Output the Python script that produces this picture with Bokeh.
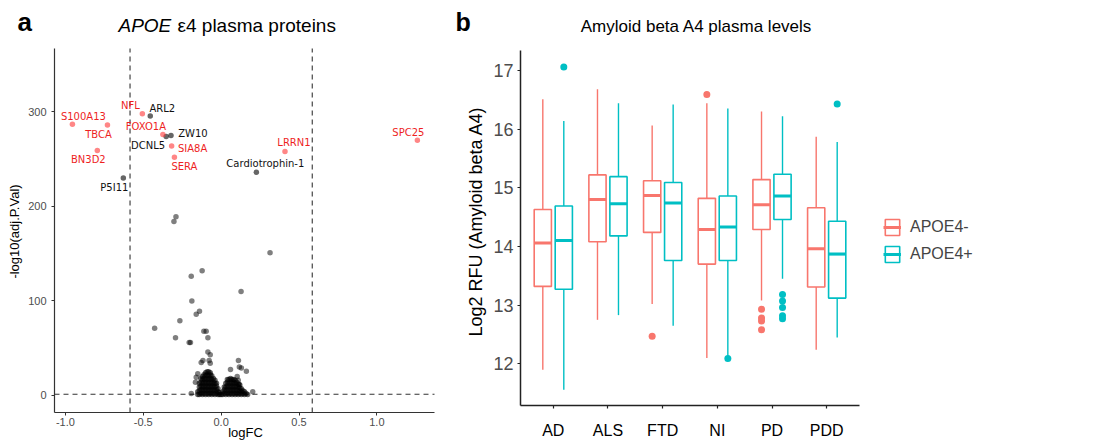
import math
from bokeh.plotting import figure
from bokeh.models import (ColumnDataSource, Label, Legend, LegendItem,
                          FixedTicker, Range1d, NumeralTickFormatter)
from bokeh.layouts import row
from bokeh.embed import file_html
from bokeh.resources import INLINE
from bokeh.core.properties import value

# ---------------- Panel a data (volcano) ----------------
FC_CUT = 0.585   # log2(1.5)
P_CUT = 1.301    # -log10(0.05)

lab_gene = ["S100A13", "TBCA", "BN3D2", "NFL", "FOXO1A", "SIA8A", "SERA", "LRRN1", "SPC25",
            "ARL2", "ZW10", "DCNL5", "P5I11", "Cardiotrophin-1"]
lab_logfc = [-0.955, -0.730, -0.795, -0.506, -0.374, -0.318, -0.300, 0.410, 1.260,
             -0.455, -0.322, -0.353, -0.628, 0.226]
lab_nlp = [287, 286, 259, 298, 276, 264, 252, 258, 270,
           295.5, 275, 274, 230, 236]
lab_red = [True, True, True, True, True, True, True, True, True,
           False, False, False, False, False]
# label nudges (screen px, like ggrepel output)
lab_dx = [11, -9, -9, -12, -17, 21, 10, 9, -9, 12, 22, -18, -9, 9]
lab_dy = [-8, 9, 9, -8, -8, 3, 9, -9, -8, -8, -2, 9, 9, -9]

mid_logfc = [-0.290, -0.303, 0.314, -0.122, -0.192, 0.128, -0.188, -0.139, -0.160, -0.427,
             -0.265, -0.293, -0.205, -0.197, -0.111, -0.096, -0.085, -0.085, -0.070, -0.128,
             -0.117, -0.077, -0.070, 0.111, 0.117, 0.130, 0.060, 0.162, 0.203, -0.192,
             -0.150, -0.160, -0.165, 0.103, 0.110, 0.115]
mid_nlp = [189, 184, 151, 132, 126, 110, 100, 89, 86, 71,
           79, 61, 56, 56, 68, 68, 61, 46, 43, 35,
           37, 37, 34, 37, 30, 29, 27.5, 25.7, 4, 2,
           23, 19.4, 14, 20, 16, 12]

blob_logfc = [
    -0.15, -0.15,
    -0.14, -0.14, -0.14, -0.14,
    -0.13, -0.13, -0.13, -0.13, -0.13,
    -0.12, -0.12, -0.12, -0.12, -0.12, -0.12,
    -0.11, -0.11, -0.11, -0.11, -0.11, -0.11,
    -0.10, -0.10, -0.10, -0.10, -0.10, -0.10, -0.10,
    -0.09, -0.09, -0.09, -0.09, -0.09, -0.09, -0.09,
    -0.08, -0.08, -0.08, -0.08, -0.08, -0.08, -0.08,
    -0.07, -0.07, -0.07, -0.07, -0.07, -0.07, -0.07,
    -0.06, -0.06, -0.06, -0.06, -0.06, -0.06,
    -0.05, -0.05, -0.05, -0.05, -0.05,
    -0.04, -0.04, -0.04, -0.04, -0.04,
    -0.03, -0.03, -0.03, -0.03,
    -0.02, -0.02, -0.02,
    -0.01, -0.01,
    0.00,
    0.01, 0.01,
    0.02, 0.02, 0.02,
    0.03, 0.03, 0.03, 0.03,
    0.04, 0.04, 0.04, 0.04, 0.04,
    0.05, 0.05, 0.05, 0.05, 0.05,
    0.06, 0.06, 0.06, 0.06, 0.06,
    0.07, 0.07, 0.07, 0.07, 0.07,
    0.08, 0.08, 0.08, 0.08, 0.08,
    0.09, 0.09, 0.09, 0.09, 0.09,
    0.10, 0.10, 0.10, 0.10,
    0.11, 0.11, 0.11, 0.11,
    0.12, 0.12, 0.12, 0.12,
    0.13, 0.13, 0.13,
    0.14, 0.14,
    0.15, 0.15,
    0.16,
    0.17,
]
blob_nlp = [
    1, 4,
    1, 5, 9, 13,
    2, 6, 10, 14, 18,
    1, 5, 9, 13, 17, 20,
    2, 6, 10, 14, 18, 22,
    1, 5, 9, 13, 17, 21, 24,
    2, 6, 10, 14, 18, 22, 25,
    1, 5, 9, 13, 17, 21, 25,
    2, 6, 10, 14, 18, 22, 24,
    1, 5, 9, 13, 17, 21,
    2, 6, 10, 14, 18,
    1, 5, 9, 13, 16,
    2, 6, 10, 13,
    1, 4, 7,
    1, 3,
    1,
    1, 4,
    2, 6, 9,
    1, 5, 9, 13,
    2, 6, 10, 14, 17,
    1, 5, 9, 13, 17,
    2, 6, 10, 14, 18,
    1, 5, 9, 13, 17,
    2, 6, 10, 14, 17,
    1, 5, 9, 13, 16,
    2, 6, 10, 14,
    1, 5, 9, 12,
    2, 5, 8, 11,
    1, 4, 7,
    2, 5,
    1, 4,
    2,
    1,
]
xa_ticks = [-1.0, -0.5, 0.0, 0.5, 1.0]
ya_ticks = [0, 100, 200, 300]
XA = (-1.07, 1.37)    # axis limits panel a
YA = (-18, 367)

# ---------------- Panel b data (boxplots) ----------------
groups = ["AD", "ALS", "FTD", "NI", "PD", "PDD"]
neg_lo = [11.90, 12.75, 13.02, 12.10, 13.08, 12.24]
neg_q1 = [13.32, 14.08, 14.24, 13.70, 14.29, 13.31]
neg_med = [14.06, 14.80, 14.87, 14.29, 14.71, 13.96]
neg_q3 = [14.63, 15.22, 15.12, 14.82, 15.14, 14.66]
neg_hi = [16.51, 16.68, 16.06, 16.44, 16.30, 15.87]
pos_lo = [11.56, 12.83, 12.65, 12.13, 13.45, 12.45]
pos_q1 = [13.27, 14.18, 13.76, 13.76, 14.46, 13.12]
pos_med = [14.10, 14.73, 14.74, 14.33, 14.86, 13.87]
pos_q3 = [14.69, 15.19, 15.09, 14.86, 15.23, 14.43]
pos_hi = [16.14, 16.44, 16.42, 16.35, 16.22, 15.78]
neg_out_group = ["FTD", "NI", "PD", "PD", "PD", "PD"]
neg_out_val = [12.47, 16.59, 12.93, 12.78, 12.73, 12.58]
pos_out_group = ["AD", "NI", "PD", "PD", "PD", "PD", "PD", "PDD"]
pos_out_val = [17.06, 12.09, 13.18, 13.07, 12.96, 12.82, 12.77, 16.43]
yb_ticks = [12, 13, 14, 15, 16, 17]
XB = (0.4, 6.6)       # axis limits panel b
YB = (11.29, 17.34)

# ---------------- styles ----------------
RED_PT = "#FF3B3B"
RED_TXT = "#EE1F1F"
NEG_C = "#F8766D"
POS_C = "#00BFC4"
SANS = "Liberation Sans"
H = 441


def make_fig(width, box, xlim, ylim):
    """Figure whose frame fills the canvas; box = plot area (left, top, right, bottom) px."""
    l, t, r, b = box
    kx = (r - l) / (xlim[1] - xlim[0])
    ky = (b - t) / (ylim[1] - ylim[0])
    xr = Range1d(xlim[0] - l / kx, xlim[0] + (width - l) / kx)
    yr = Range1d(ylim[0] - (H - b) / ky, ylim[1] + t / ky)
    p = figure(width=width, height=H, x_range=xr, y_range=yr, output_backend="svg",
               toolbar_location=None, min_border=0, min_border_left=0, min_border_right=0,
               min_border_top=0, min_border_bottom=0)
    p.title.visible = False
    p.grid.visible = False
    p.outline_line_color = None
    p.background_fill_color = "white"
    p.border_fill_color = "white"
    p.xaxis.fixed_location = ylim[0]
    p.yaxis.fixed_location = xlim[0]
    p.xaxis.bounds = xlim
    p.yaxis.bounds = ylim

    def px2x(px):
        return xlim[0] + (px - l) / kx

    def py2y(py):
        return ylim[0] + (b - py) / ky
    return p, px2x, py2y


def add_label(p, x, y, text, size, style="normal", align="left", angle=0.0, color="black"):
    p.add_layout(Label(x=x, y=y, text=text, text_font=SANS, text_font_size=size,
                       text_font_style=style, text_color=color, text_align=align,
                       text_baseline="middle", angle=angle))


# ---------------- Panel a ----------------
A_W = 454
pa, ax, ay = make_fig(A_W, (54, 48, 434, 412), XA, YA)
for axis in (pa.xaxis, pa.yaxis):
    axis.axis_line_color = "#333333"
    axis.axis_line_width = 1.2
    axis.major_tick_line_color = "#333333"
    axis.major_tick_in = 0
    axis.major_tick_out = 3
    axis.minor_tick_line_color = None
    axis.major_label_text_font = SANS
    axis.major_label_text_font_size = "11px"
    axis.major_label_text_color = "#4D4D4D"
pa.xaxis.ticker = FixedTicker(ticks=xa_ticks)
pa.xaxis.formatter = NumeralTickFormatter(format="0.0")
pa.xaxis.major_label_standoff = 2
pa.yaxis.ticker = FixedTicker(ticks=ya_ticks)
pa.yaxis.major_label_standoff = 5

# threshold lines (within axis limits)
pa.segment([-FC_CUT, FC_CUT, XA[0]], [YA[0], YA[0], P_CUT], [-FC_CUT, FC_CUT, XA[1]],
           [YA[1], YA[1], P_CUT], line_color="#333333", line_width=1.1, line_dash="5 4")

pa.scatter(blob_logfc, blob_nlp, size=5.5, fill_color="black", fill_alpha=0.6, line_color=None)
pa.scatter(mid_logfc, mid_nlp, size=5.5, fill_color="black", fill_alpha=0.5, line_color=None)


def subset(flag):
    keep = [r == flag for r in lab_red]
    return ColumnDataSource(dict(
        x=[v for v, k in zip(lab_logfc, keep) if k],
        y=[v for v, k in zip(lab_nlp, keep) if k],
        t=[v for v, k in zip(lab_gene, keep) if k],
        dx=[v for v, k in zip(lab_dx, keep) if k],
        dy=[v for v, k in zip(lab_dy, keep) if k]))


red_src = subset(True)
gry_src = subset(False)
pa.scatter("x", "y", source=gry_src, size=5.5, fill_color="black", fill_alpha=0.6, line_color=None)
pa.scatter("x", "y", source=red_src, size=5.5, fill_color=RED_PT, fill_alpha=0.62, line_color=None)
pa.text("x", "y", text="t", source=gry_src, x_offset="dx", y_offset="dy",
        text_font=value("DejaVu Sans"), text_font_size="10px", text_color="#111111",
        text_align="center", text_baseline="middle")
pa.text("x", "y", text="t", source=red_src, x_offset="dx", y_offset="dy",
        text_font=value("DejaVu Sans"), text_font_size="10px", text_color=RED_TXT,
        text_align="center", text_baseline="middle")

add_label(pa, ax(17), ay(21), "a", "26px", style="bold")
add_label(pa, ax(118), ay(25), "APOE", "19px", style="italic")
add_label(pa, ax(177), ay(25), "\u03b54 plasma proteins", "19px")
add_label(pa, ax(14), ay(231), "-log10(adj.P.Val)", "13px", align="center", angle=math.pi / 2)
add_label(pa, ax(245), ay(432), "logFC", "13px", align="center")

# ---------------- Panel b ----------------
B_W = 638
OX = 454  # panel b starts at this page x
pb, bx, by = make_fig(B_W, (520 - OX, 50, 859 - OX, 405), XB, YB)
DODGE = 0.192
BOX_W = 0.315
for axis in (pb.xaxis, pb.yaxis):
    axis.axis_line_color = "#222222"
    axis.axis_line_width = 1.5
    axis.major_tick_line_color = "#222222"
    axis.major_tick_line_width = 1.2
    axis.major_tick_in = 0
    axis.major_tick_out = 3
    axis.minor_tick_line_color = None
    axis.major_label_text_font = SANS
pb.xaxis.ticker = FixedTicker(ticks=list(range(1, len(groups) + 1)))
pb.xaxis.major_label_overrides = {i + 1: g for i, g in enumerate(groups)}
pb.xaxis.major_label_text_font_size = "16px"
pb.xaxis.major_label_text_color = "black"
pb.xaxis.major_label_standoff = 13
pb.yaxis.ticker = FixedTicker(ticks=yb_ticks)
pb.yaxis.major_label_text_font_size = "18px"
pb.yaxis.major_label_text_color = "#4D4D4D"
pb.yaxis.major_label_standoff = 4


def draw_boxes(off, lo, q1, med, q3, hi, color):
    xs = [i + 1 + off for i in range(len(groups))]
    src = ColumnDataSource(dict(x=xs, lo=lo, q1=q1, med=med, q3=q3, hi=hi,
                                xl=[x - BOX_W / 2 for x in xs], xr=[x + BOX_W / 2 for x in xs]))
    pb.segment("x", "q3", "x", "hi", source=src, line_color=color, line_width=1.4)
    pb.segment("x", "q1", "x", "lo", source=src, line_color=color, line_width=1.4)
    rb = pb.vbar(x="x", width=BOX_W, top="q3", bottom="q1", source=src, fill_color="white",
                 line_color=color, line_width=1.6)
    rm = pb.segment("xl", "med", "xr", "med", source=src, line_color=color, line_width=3)
    return rb, rm


rb_neg, rm_neg = draw_boxes(-DODGE, neg_lo, neg_q1, neg_med, neg_q3, neg_hi, NEG_C)
rb_pos, rm_pos = draw_boxes(DODGE, pos_lo, pos_q1, pos_med, pos_q3, pos_hi, POS_C)
pb.scatter([groups.index(g) + 1 - DODGE for g in neg_out_group], neg_out_val, size=7,
           fill_color=NEG_C, line_color=None)
pb.scatter([groups.index(g) + 1 + DODGE for g in pos_out_group], pos_out_val, size=7,
           fill_color=POS_C, line_color=None)

legend = Legend(items=[LegendItem(label="APOE4-", renderers=[rb_neg, rm_neg]),
                       LegendItem(label="APOE4+", renderers=[rb_pos, rm_pos])],
                location=(883 - OX, H - 264), border_line_color=None,
                background_fill_alpha=0, label_text_font=SANS, label_text_font_size="16px",
                glyph_width=18, glyph_height=20, spacing=7, padding=0, margin=0,
                label_standoff=9)
pb.add_layout(legend)

add_label(pb, bx(455 - OX), by(21), "b", "25px", style="bold")
add_label(pb, bx(696 - OX), by(26), "Amyloid beta A4 plasma levels", "17px", align="center")
add_label(pb, bx(475 - OX), by(221), "Log2 RFU (Amyloid beta A4)", "18px", align="center",
          angle=math.pi / 2)

layout = row(pa, pb)
open("out.html", "w").write(file_html(layout, INLINE))
